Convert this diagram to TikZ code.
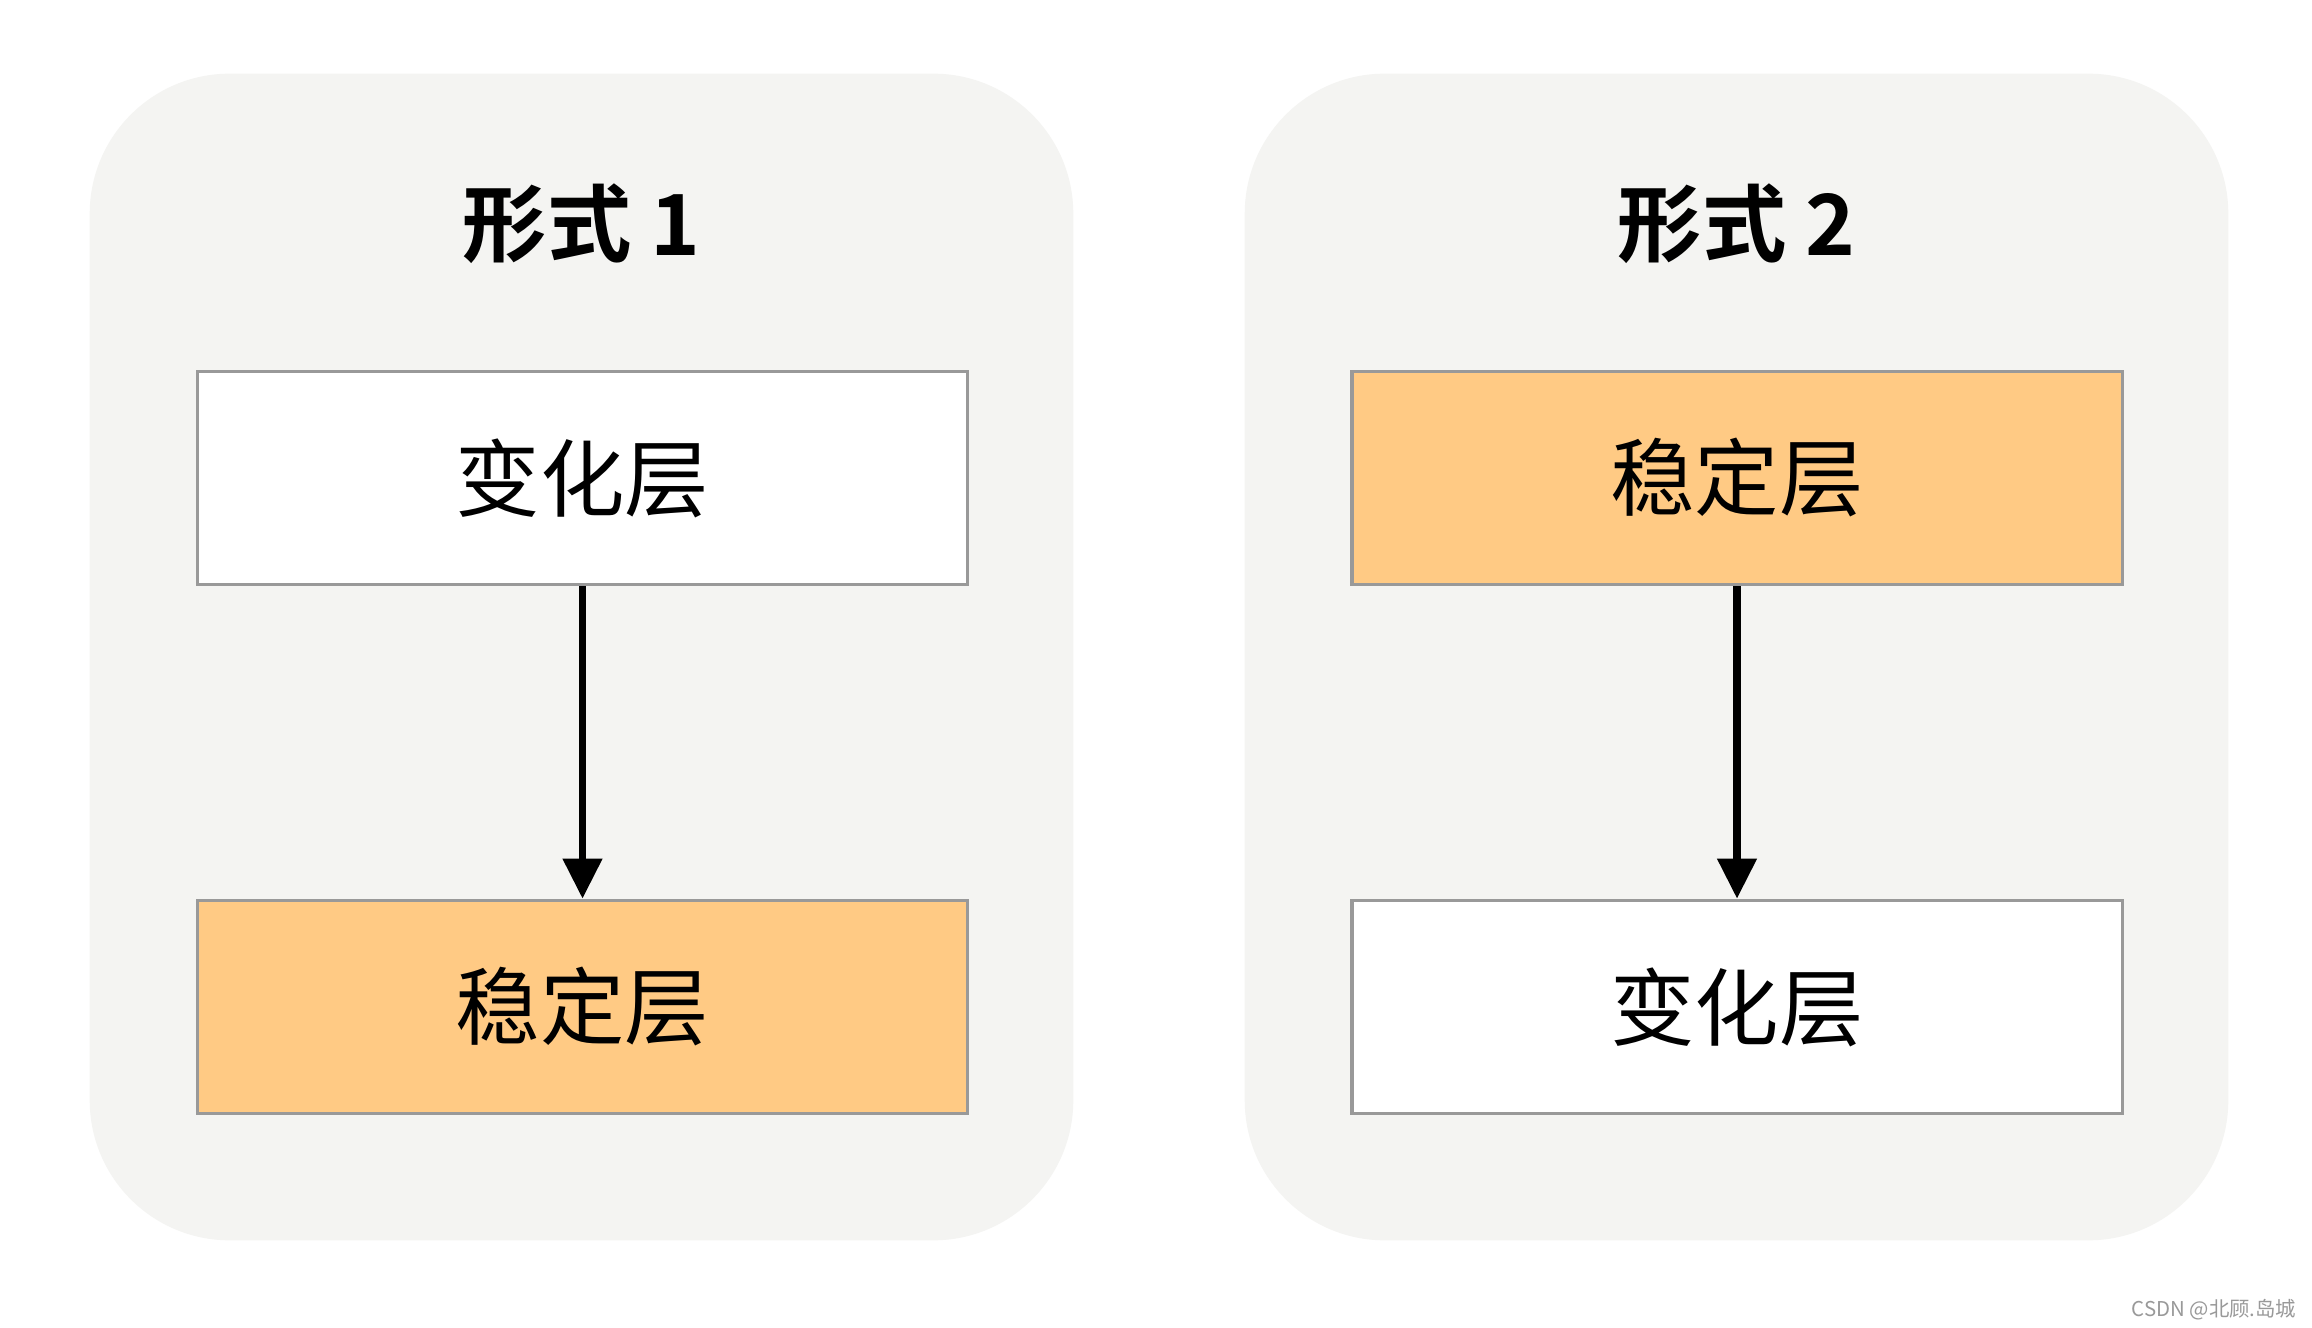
\documentclass[tikz,border=0pt]{standalone}
\usepackage{fontspec}
\newfontfamily\cjk{Noto Sans CJK SC}
\newfontfamily\cjkbold{Noto Sans CJK SC Bold}
\usetikzlibrary{arrows.meta}
\definecolor{panelbg}{HTML}{F4F4F2}
\definecolor{stable}{HTML}{FFCA84}
\definecolor{boxline}{HTML}{999999}
\tikzset{
  panel/.style={fill=panelbg, draw=none, rounded corners=1.4cm, minimum width=9.83cm, minimum height=11.66cm, inner sep=0pt},
  layerbox/.style={draw=boxline, line width=0.035cm, minimum width=7.70cm, minimum height=2.13cm, inner sep=0pt, font=\cjk\fontsize{24}{28}\selectfont},
  changebox/.style={layerbox, fill=white},
  stablebox/.style={layerbox, fill=stable},
  titletext/.style={font=\cjkbold\fontsize{24}{28}\selectfont, inner sep=0pt},
  flow/.style={line width=0.075cm, -{Triangle[length=0.40cm, width=0.38cm]}},
}
\begin{document}
\begin{tikzpicture}[x=0.01cm, y=-0.01cm]
\useasboundingbox (0,0) rectangle (2312,1328);
\fill[white] (0,0) rectangle (2312,1328);
% panels
\node[panel] (p1) at (581.5,657) {};
\node[panel] (p2) at (1736.5,657) {};
% titles
\node[titletext] (t1) at (581.5,224) {形式 1};
\node[titletext] (t2) at (1736.5,224) {形式 2};
% form 1
\node[changebox] (a1) at (582.5,478) {变化层};
\node[stablebox] (b1) at (582.5,1007) {稳定层};
% form 2
\node[stablebox] (a2) at (1737,478) {稳定层};
\node[changebox] (b2) at (1737,1007) {变化层};
% arrows
\draw[flow] (a1) -- (b1);
\draw[flow] (a2) -- (b2);
% watermark
\node[font=\cjk\fontsize{5.8}{7}\selectfont, text=gray!80, inner sep=0pt, anchor=east] (wm) at (2297,1310) {CSDN @北顾.岛城};
\end{tikzpicture}
\end{document}
